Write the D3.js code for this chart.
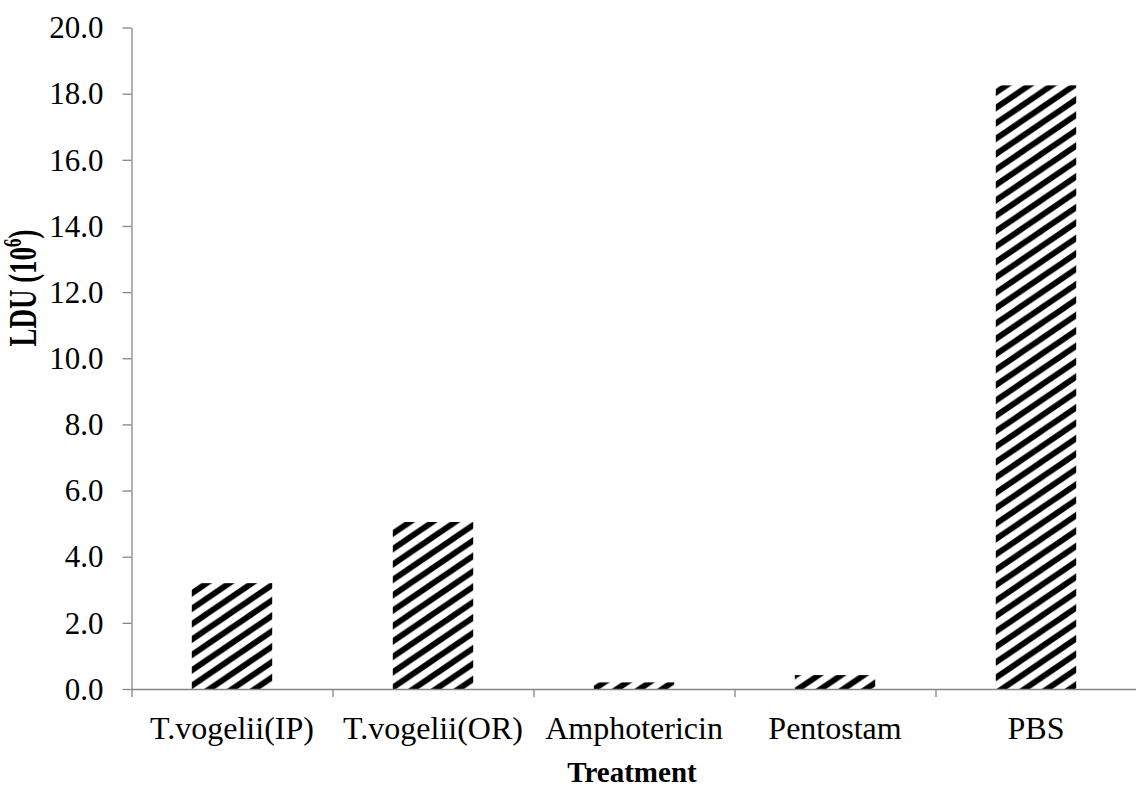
<!DOCTYPE html>
<html>
<head>
<meta charset="utf-8">
<script src="https://cdn.jsdelivr.net/npm/d3@7"></script>
<style>
  html, body { margin: 0; padding: 0; background: #fff; }
  svg { display: block; }
  text { font-family: "Liberation Serif", "Times New Roman", serif; fill: #000; }
</style>
</head>
<body>
<svg id="chart" width="1136" height="789"></svg>
<script>
const categories = ["T.vogelii(IP)", "T.vogelii(OR)", "Amphotericin", "Pentostam", "PBS"];
const values = [3.2, 5.05, 0.2, 0.42, 18.25];
const yTicks = [0, 2, 4, 6, 8, 10, 12, 14, 16, 18, 20];
const yTitle = "LDU (10";
const yTitleSup = "6";
const xTitle = "Treatment";

const margin = { left: 131.5, top: 27.5 };
const plotRight = 1136.5;
const plotBottom = 689;
const axisColor = "#868686";

const svg = d3.select("#chart");

// hatch pattern (diagonal stripes, flattened like the reference)
const s = 15.4, SX = 1.47;
const defs = svg.append("defs");
const pat = defs.append("pattern")
  .attr("id", "hatch")
  .attr("patternUnits", "userSpaceOnUse")
  .attr("width", s).attr("height", s)
  .attr("patternTransform", `scale(${SX},1)`);
pat.append("rect").attr("width", s).attr("height", s).attr("fill", "#fff");
pat.append("path")
  .attr("d", `M0,${s} L${s},0 M${-s/2},${s/2} L${s/2},${-s/2} M${s/2},${1.5*s} L${1.5*s},${s/2}`)
  .attr("stroke", "#000").attr("stroke-width", 5).attr("stroke-linecap", "square");

const x = d3.scaleBand().domain(categories).range([margin.left, plotRight]).paddingInner(0.6).paddingOuter(0.3);
const xb = d3.scaleLinear().domain([0, categories.length]).range([margin.left, plotRight]);
const y = d3.scaleLinear().domain([0, 20]).range([plotBottom, margin.top]);

// bars
svg.append("g").selectAll("rect").data(values).join("rect")
  .attr("x", (d, i) => x(categories[i]))
  .attr("width", x.bandwidth())
  .attr("y", d => y(d))
  .attr("height", d => y(0) - y(d))
  .attr("fill", "url(#hatch)");

// y axis
const gy = svg.append("g").attr("transform", `translate(${margin.left},0)`)
  .call(d3.axisLeft(y).tickValues(yTicks).tickFormat(d3.format(".1f")).tickSize(9).tickSizeOuter(0).tickPadding(19));
gy.selectAll("line, path").attr("stroke", axisColor).attr("stroke-width", 1.3);
gy.selectAll("text").attr("font-size", 31).attr("font-family", "Liberation Serif").attr("fill", "#000").attr("dy", "0.33em");

// x axis (boundary ticks)
const gx = svg.append("g").attr("transform", `translate(0,${plotBottom})`)
  .call(d3.axisBottom(xb).tickValues(d3.range(categories.length + 1)).tickFormat("").tickSize(8).tickSizeOuter(0));
gx.selectAll("line, path").attr("stroke", axisColor).attr("stroke-width", 1.3);

// category labels
const gc = svg.append("g").attr("transform", `translate(0,${plotBottom})`)
  .call(d3.axisBottom(x).tickSize(0).tickPadding(0));
gc.select(".domain").remove();
gc.selectAll("text").attr("font-size", 32).attr("font-family", "Liberation Serif").attr("fill", "#000")
  .attr("y", 50).attr("dy", 0);

// x title
svg.append("text")
  .attr("x", (margin.left + plotRight) / 2 - 2).attr("y", 782)
  .attr("text-anchor", "middle")
  .attr("font-size", 29).attr("font-weight", "bold")
  .text(xTitle);

// y title (glyphs appear stretched across in the reference)
const yt = svg.append("text")
  .attr("transform", `translate(36,288) scale(1.45,1) rotate(-90)`)
  .attr("text-anchor", "middle")
  .attr("font-size", 27).attr("font-weight", "bold");
yt.append("tspan").text(yTitle);
yt.append("tspan").attr("font-size", 17).attr("dy", "-0.6em").text(yTitleSup);
yt.append("tspan").attr("dy", "0.38em").text(")");
</script>
</body>
</html>
